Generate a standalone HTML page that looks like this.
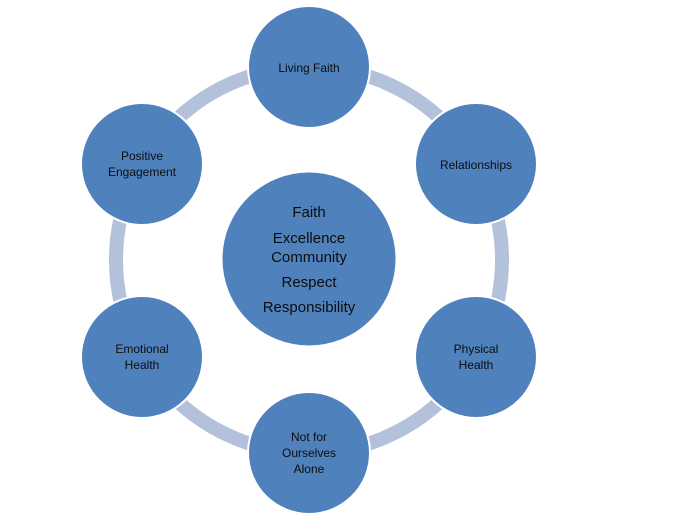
<!DOCTYPE html>
<html><head><style>body{margin:0;background:#fff}svg{display:block}text{font-family:"Liberation Sans",sans-serif;fill:#0d0d0d;text-anchor:middle}</style></head>
<body>
<svg width="674" height="531" viewBox="0 0 674 531" xmlns="http://www.w3.org/2000/svg">
<circle cx="309" cy="260" r="193" fill="none" stroke="#b3c2da" stroke-width="14"/>
<g fill="#4f81bd" stroke="#fff" stroke-width="2">
<circle cx="309" cy="259" r="87.5"/>
<circle cx="309" cy="67" r="61"/>
<circle cx="476" cy="164" r="61"/>
<circle cx="476" cy="357" r="61"/>
<circle cx="309" cy="453" r="61"/>
<circle cx="142" cy="357" r="61"/>
<circle cx="142" cy="164" r="61"/>
</g>
<g font-size="12">
<text x="309" y="72">Living Faith</text>
<text x="476" y="169">Relationships</text>
<text x="476" y="353">Physical</text><text x="476" y="369">Health</text>
<text x="309" y="441">Not for</text><text x="309" y="457">Ourselves</text><text x="309" y="473">Alone</text>
<text x="142" y="353">Emotional</text><text x="142" y="369">Health</text>
<text x="142" y="160">Positive</text><text x="142" y="176">Engagement</text>
</g>
<g font-size="15">
<text x="309" y="217">Faith</text>
<text x="309" y="243">Excellence</text>
<text x="309" y="262">Community</text>
<text x="309" y="287">Respect</text>
<text x="309" y="312">Responsibility</text>
</g>
</svg>
</body></html>
